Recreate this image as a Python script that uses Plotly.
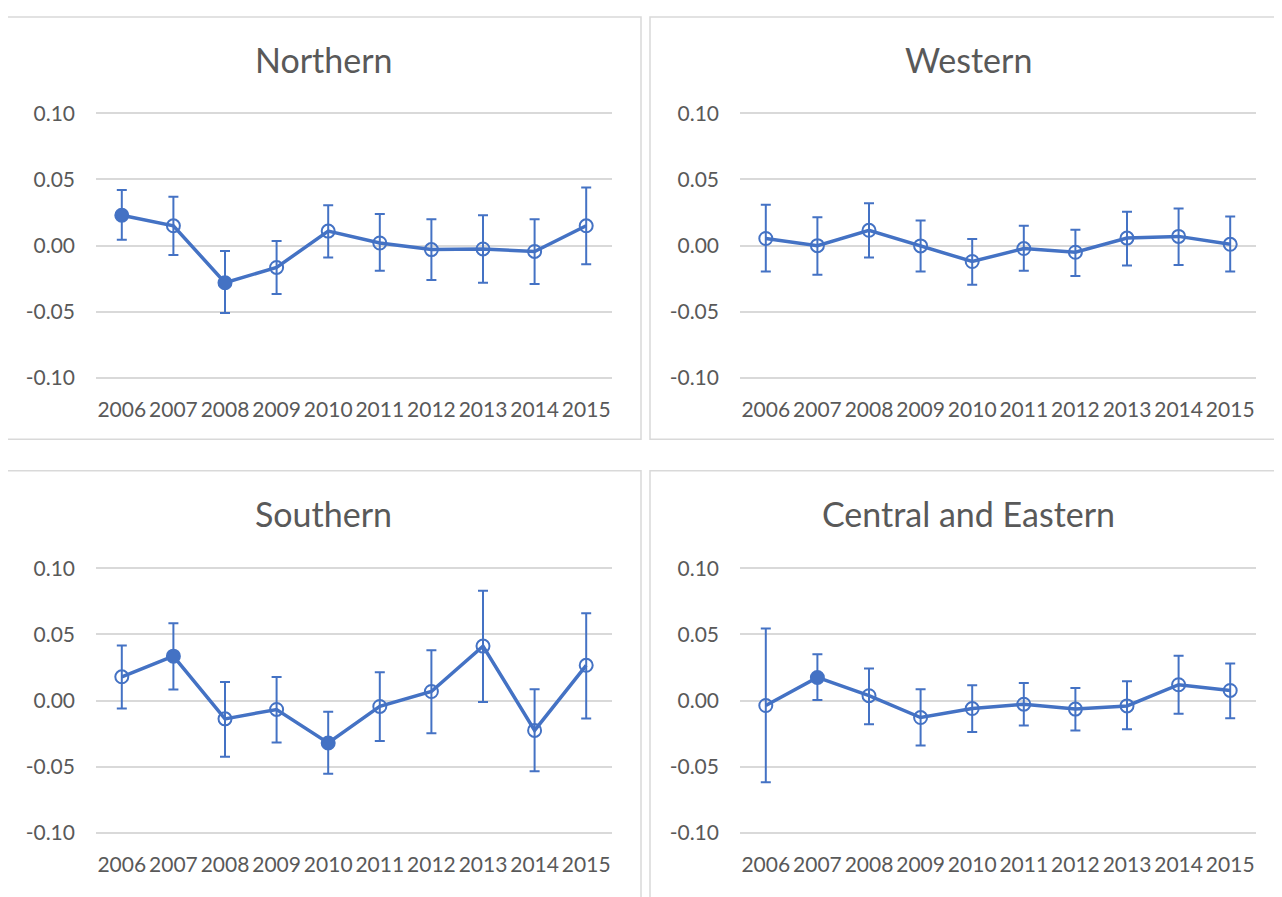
import plotly.graph_objects as go

# ---------------- data ----------------
years = [2006, 2007, 2008, 2009, 2010, 2011, 2012, 2013, 2014, 2015]
year_labels = [str(y) for y in years]

regions = ["Northern", "Western", "Southern", "Central and Eastern"]

northern_mean = [0.023, 0.015, -0.028, -0.0165, 0.011, 0.002, -0.003, -0.0025, -0.0044, 0.015]
northern_hi = [0.042, 0.037, -0.004, 0.0035, 0.0306, 0.024, 0.020, 0.023, 0.020, 0.044]
northern_lo = [0.0045, -0.007, -0.051, -0.0365, -0.009, -0.019, -0.026, -0.028, -0.029, -0.014]
northern_sig = [1, 0, 1, 0, 0, 0, 0, 0, 0, 0]

western_mean = [0.0054, 0.0, 0.0116, -0.0002, -0.012, -0.0022, -0.005, 0.0057, 0.007, 0.001]
western_hi = [0.031, 0.0215, 0.032, 0.019, 0.005, 0.015, 0.012, 0.0257, 0.028, 0.022]
western_lo = [-0.0195, -0.022, -0.009, -0.0195, -0.0296, -0.019, -0.023, -0.015, -0.0146, -0.0195]
western_sig = [0, 0, 0, 0, 0, 0, 0, 0, 0, 0]

southern_mean = [0.018, 0.0336, -0.0138, -0.0067, -0.032, -0.0044, 0.0069, 0.0412, -0.0225, 0.0267]
southern_hi = [0.0417, 0.0585, 0.014, 0.0178, -0.0084, 0.0215, 0.038, 0.083, 0.0086, 0.066]
southern_lo = [-0.006, 0.0084, -0.0425, -0.0316, -0.0553, -0.0306, -0.0247, -0.001, -0.0533, -0.0136]
southern_sig = [0, 1, 0, 0, 1, 0, 0, 0, 0, 0]

central_mean = [-0.0037, 0.0175, 0.0037, -0.0128, -0.006, -0.0027, -0.0064, -0.004, 0.012, 0.0077]
central_hi = [0.0546, 0.035, 0.0242, 0.0086, 0.0116, 0.0133, 0.0096, 0.0146, 0.034, 0.028]
central_lo = [-0.0617, 0.0005, -0.0178, -0.034, -0.0237, -0.0188, -0.0225, -0.0217, -0.010, -0.0133]
central_sig = [0, 1, 0, 0, 0, 0, 0, 0, 0, 0]

y_tickvals = [-0.10, -0.05, 0.0, 0.05, 0.10]
y_ticktext = ["-0.10", "-0.05", "0.00", "0.05", "0.10"]

series = [
    (northern_mean, northern_hi, northern_lo, northern_sig),
    (western_mean, western_hi, western_lo, western_sig),
    (southern_mean, southern_hi, southern_lo, southern_sig),
    (central_mean, central_hi, central_lo, central_sig),
]

# ---------------- layout geometry (pixels in the final screenshot) ----------------
W, H = 1282, 897
OFF = 8  # page body margin of the html page
BLUE = "#4472C4"
GRID = "#d9d9d9"
TEXT = "#595959"
FONT = "Lato"

YPAD = 0.0025
YR = [-0.1 - YPAD, 0.1 + YPAD]
PX_PER_UNIT = 1350.0

# (plot x0, plot x1, y of 0.10 gridline, box x0, box y0, box x1, box y1, title x, title y)
panels = [
    (96, 612, 105.3, 6, 7, 641, 438, 323.5, 50),
    (740, 1256, 105.3, 650, 7, 1300, 438, 968, 50),
    (96, 612, 569.6, 6, 470, 641, 910, 323.5, 514),
    (740, 1256, 569.6, 650, 470, 1300, 910, 968, 514),
]


def fx(x):
    return (x - OFF) / W


def fy(y):
    return 1 - (y - OFF) / H


fig = go.Figure()
shapes = []
annotations = []

for i, (name, (mean, hi, lo, sig), geo) in enumerate(zip(regions, series, panels)):
    px0, px1, ytop, bx0, by0, bx1, by1, tx, ty = geo
    idx = "" if i == 0 else str(i + 1)
    top_px = ytop - YPAD * PX_PER_UNIT
    bot_px = ytop + (0.2 + YPAD) * PX_PER_UNIT

    err_up = [h - m for h, m in zip(hi, mean)]
    err_dn = [m - l for m, l in zip(mean, lo)]
    symbols = ["circle" if s else "circle-open" for s in sig]

    fig.add_trace(go.Scatter(
        x=years, y=mean,
        mode="lines+markers",
        line=dict(color=BLUE, width=3.5),
        marker=dict(symbol=symbols, size=13, color=BLUE,
                    line=dict(color=BLUE, width=2)),
        error_y=dict(type="data", symmetric=False, array=err_up, arrayminus=err_dn,
                     color=BLUE, thickness=2, width=5),
        xaxis="x" + idx, yaxis="y" + idx,
        showlegend=False,
    ))

    fig.layout["xaxis" + idx] = dict(
        domain=[fx(px0), fx(px1)], anchor="y" + idx,
        range=[2005.5, 2015.5], tickvals=years, ticktext=year_labels,
        showgrid=False, zeroline=False, showline=False, ticks="",
        tickfont=dict(family=FONT, size=21, color=TEXT),
        ticklabelstandoff=14, fixedrange=True,
    )
    fig.layout["yaxis" + idx] = dict(
        domain=[fy(bot_px), fy(top_px)], anchor="x" + idx,
        range=YR, tickvals=y_tickvals, ticktext=y_ticktext,
        showgrid=True, gridcolor=GRID, gridwidth=1.5,
        zeroline=False, showline=False, ticks="",
        tickfont=dict(family=FONT, size=21, color=TEXT),
        ticklabelstandoff=20, fixedrange=True,
    )

    shapes.append(dict(type="rect", xref="paper", yref="paper",
                       x0=fx(bx0), x1=fx(bx1), y0=fy(by1), y1=fy(by0),
                       line=dict(color=GRID, width=1.5), fillcolor="rgba(0,0,0,0)",
                       layer="below"))
    annotations.append(dict(text=name, xref="paper", yref="paper",
                            x=fx(tx), y=fy(ty), xanchor="center", yanchor="middle",
                            showarrow=False,
                            font=dict(family=FONT, size=34, color=TEXT)))

fig.update_layout(
    width=W, height=H,
    margin=dict(l=0, r=0, t=0, b=0),
    paper_bgcolor="white", plot_bgcolor="rgba(0,0,0,0)",
    shapes=shapes, annotations=annotations,
    font=dict(family=FONT, color=TEXT),
)

fig.write_html("out.html")
